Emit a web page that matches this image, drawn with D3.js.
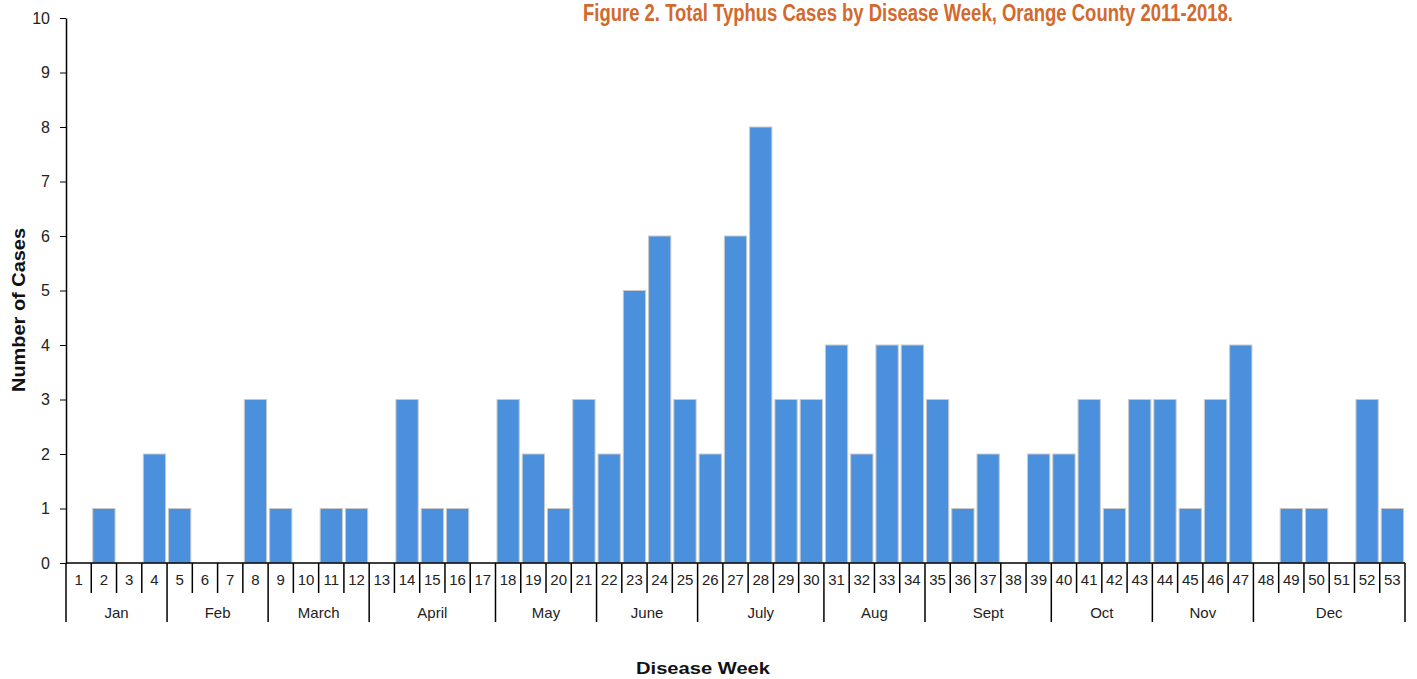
<!DOCTYPE html>
<html>
<head>
<meta charset="utf-8">
<script src="https://cdn.jsdelivr.net/npm/d3@7"></script>
<style>
  body { margin: 0; background: #fff; }
  text { font-family: "Liberation Sans", Arial, sans-serif; }
</style>
</head>
<body>
<div id="chart"></div>
<script>
// Data
const weeks = d3.range(1, 54);
const cases = [0, 1, 0, 2, 1, 0, 0, 3, 1, 0, 1, 1, 0, 3, 1, 1, 0, 3, 2, 1, 3, 2, 5, 6, 3,
               2, 6, 8, 3, 3, 4, 2, 4, 4, 3, 1, 2, 0, 2, 2, 3, 1, 3, 3, 1, 3, 4, 0, 1, 1, 0, 3, 1];
const months = ["Jan", "Feb", "March", "April", "May", "June", "July", "Aug", "Sept", "Oct", "Nov", "Dec"];
const monthStart = [1, 5, 9, 13, 18, 22, 26, 31, 35, 40, 44, 48];
const monthEnd = [4, 8, 12, 17, 21, 25, 30, 34, 39, 43, 47, 53];
const yTicks = d3.range(0, 11);

const data = weeks.map((w, i) => ({week: w, cases: cases[i]}));

const W = 1417, H = 679;
const margin = {top: 18, right: 12, bottom: 116, left: 66};
const width = W - margin.left - margin.right;
const height = H - margin.top - margin.bottom;

const svg = d3.select("#chart")
    .append("svg")
    .attr("width", W)
    .attr("height", H);

const g = svg.append("g")
    .attr("transform", `translate(${margin.left},${margin.top})`);

// one cell per week, edges at half-weeks
const cell = d3.scaleLinear().domain([0.5, 53.5]).range([0, width]);

const y = d3.scaleLinear()
    .domain([0, 10])
    .range([height, 0]);

// Bars
g.selectAll("rect.bar")
    .data(data.filter(d => d.cases > 0))
    .enter()
    .append("rect")
    .attr("class", "bar")
    .attr("x", d => cell(d.week - 0.5) + 1.5)
    .attr("width", cell(1.5) - cell(0.5) - 3)
    .attr("y", d => y(d.cases))
    .attr("height", d => height - y(d.cases))
    .attr("fill", "#4a90dc")
    .attr("stroke", "#c9c9c9")
    .attr("stroke-width", 1);

// Y axis
const yAxis = g.append("g")
    .call(d3.axisLeft(y).tickValues(yTicks).tickSize(6).tickPadding(10).tickSizeOuter(0));
yAxis.select(".domain").attr("stroke", "#000").attr("stroke-width", 1.5);
yAxis.selectAll("text").style("font-size", "16px").attr("fill", "#222");

// X baseline
g.append("line")
    .attr("x1", 0).attr("x2", width)
    .attr("y1", height).attr("y2", height)
    .attr("stroke", "#000").attr("stroke-width", 1.5);

// Week separators
g.selectAll("line.wsep")
    .data(d3.range(0, 54))
    .enter()
    .append("line")
    .attr("class", "wsep")
    .attr("x1", i => cell(i + 0.5)).attr("x2", i => cell(i + 0.5))
    .attr("y1", height).attr("y2", height + 30)
    .attr("stroke", "#000").attr("stroke-width", 1.5);

// Week labels
g.selectAll("text.wlab")
    .data(weeks)
    .enter()
    .append("text")
    .attr("class", "wlab")
    .attr("x", w => cell(w))
    .attr("y", height + 22)
    .attr("text-anchor", "middle")
    .style("font-size", "15px")
    .attr("fill", "#222")
    .text(w => w);

// Month separators
const monthEdges = monthStart.map(s => s - 0.5).concat([53.5]);
g.selectAll("line.msep")
    .data(monthEdges)
    .enter()
    .append("line")
    .attr("class", "msep")
    .attr("x1", d => cell(d)).attr("x2", d => cell(d))
    .attr("y1", height + 30).attr("y2", height + 59)
    .attr("stroke", "#000").attr("stroke-width", 1.5);

// Month labels
g.selectAll("text.mlab")
    .data(months)
    .enter()
    .append("text")
    .attr("class", "mlab")
    .attr("x", (m, i) => (cell(monthStart[i] - 0.5) + cell(monthEnd[i] + 0.5)) / 2)
    .attr("y", height + 55)
    .attr("text-anchor", "middle")
    .style("font-size", "15px")
    .attr("fill", "#222")
    .text(m => m);

// Title
svg.append("text")
    .attr("x", 908)
    .attr("y", 21)
    .attr("text-anchor", "middle")
    .attr("textLength", 650)
    .attr("lengthAdjust", "spacingAndGlyphs")
    .style("font-size", "23px")
    .style("font-weight", "bold")
    .attr("fill", "#d2692d")
    .text("Figure 2. Total Typhus Cases by Disease Week, Orange County 2011-2018.");

// Axis titles
svg.append("text")
    .attr("transform", "rotate(-90)")
    .attr("x", -310)
    .attr("y", 25)
    .attr("text-anchor", "middle")
    .attr("textLength", 164)
    .attr("lengthAdjust", "spacingAndGlyphs")
    .style("font-size", "18px")
    .style("font-weight", "bold")
    .attr("fill", "#111")
    .text("Number of Cases");

svg.append("text")
    .attr("x", 703)
    .attr("y", 674)
    .attr("text-anchor", "middle")
    .attr("textLength", 134)
    .attr("lengthAdjust", "spacingAndGlyphs")
    .style("font-size", "17px")
    .style("font-weight", "bold")
    .attr("fill", "#111")
    .text("Disease Week");
</script>
</body>
</html>
